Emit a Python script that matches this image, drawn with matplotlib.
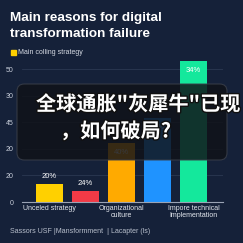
import matplotlib
matplotlib.use("Agg")
import matplotlib.pyplot as plt
from matplotlib.patches import FancyBboxPatch
import matplotlib.patheffects as pe

# data
categories = ['Unceled strategy', 'Red', 'Organizational\nculture', 'Blue', 'Impore technical\nImplementation']
values = [6.8, 4.1, 22.2, 31.6, 53.0]
value_labels = ['20%', '24%', '40%', '67%', '34%']
bar_colors = ['#ffd000', '#f23a46', '#ffaa00', '#1f93ff', '#14e89c']
label_inside = [False, False, True, True, True]
ytick_vals = [0, 10, 20, 30, 40, 50]
ytick_text = ['0', '20', '20', '45', '30', '50']
xtick_pos = [0, 2, 4]
xtick_text = ['Unceled strategy', 'Organizational\nculture', 'Impore technical\nImplementation']

bg = '#152139'
W = 243.0

fig = plt.figure(figsize=(2.43, 2.43), dpi=100)
fig.patch.set_facecolor(bg)

# axes placed to match pixel layout
ax = fig.add_axes([22 / W, 1 - 202 / W, 201 / W, (202 - 55.7) / W])
ax.set_facecolor(bg)
ax.set_xlim(-0.764, 4.82)
ax.set_ylim(0, 55)

for y in ytick_vals[1:]:
    ax.axhline(y, color='#2b3852', lw=0.6, zorder=0)

xs = list(range(len(values)))
ax.bar(xs, values, width=0.75, color=bar_colors, zorder=2)

for x, v, t, inside in zip(xs, values, value_labels, label_inside):
    off = -7 if inside else 5.5
    ax.annotate(t, (x, v), xytext=(0, off), textcoords='offset points',
                ha='center', va='center', color='white', fontsize=5.5,
                family='Liberation Sans', zorder=3)

for s in ['top', 'right', 'left']:
    ax.spines[s].set_visible(False)
ax.spines['bottom'].set_color('#9aa3b5')
ax.spines['bottom'].set_linewidth(0.8)

ax.set_yticks(ytick_vals)
ax.set_yticklabels(ytick_text, family='Liberation Sans', fontsize=5, color='#c9cfdb')
ax.tick_params(axis='y', length=0, pad=6)
ax.set_xticks(xtick_pos)
ax.set_xticklabels(xtick_text, family='Liberation Sans', fontsize=5, color='#e4e8ef',
                   linespacing=1.1)
ax.tick_params(axis='x', length=0, pad=2)

# title
fig.text(10 / W, 1 - 17.5 / W, 'Main reasons for digital', ha='left', va='center',
         color='white', fontsize=9.7, fontweight='bold', family='Liberation Sans')
fig.text(10 / W, 1 - 34 / W, 'transformation failure', ha='left', va='center',
         color='white', fontsize=9.7, fontweight='bold', family='Liberation Sans')

# legend
fig.patches.append(plt.Rectangle((11 / W, 1 - 55 / W), 5 / W, 5 / W, transform=fig.transFigure,
                                 color='#ffd000', figure=fig))
fig.text(18 / W, 1 - 52.5 / W, 'Main colling strategy', ha='left', va='center',
         color='#d5dae3', fontsize=5, family='Liberation Sans')

# footer
fig.text(10 / W, 1 - 231 / W, 'Sassors USF |Mansformment  | Lacapter (ls)', ha='left',
         va='center', color='#b8bfcc', fontsize=5, family='Liberation Sans')

# dark overlay box with chinese headline
box = FancyBboxPatch((17 / W, 1 - 160 / W), 210 / W, 76 / W,
                     boxstyle='round,pad=0,rounding_size=0.03',
                     transform=fig.transFigure, facecolor='#101218', alpha=0.84,
                     edgecolor='#3a3f4a', lw=0.8, zorder=10)
fig.add_artist(box)

stroke = [pe.withStroke(linewidth=2, foreground='#101010')]
fig.text(36 / W, 1 - 104 / W, '全球通胀"灰犀牛"已现', ha='left', va='center', color='white',
         fontsize=14.5, fontweight='bold', family=['Noto Sans CJK SC', 'DejaVu Sans'],
         path_effects=stroke, zorder=11)
fig.text(60 / W, 1 - 131 / W, '，如何破局?', ha='left', va='center', color='white',
         fontsize=14.5, fontweight='bold', family=['Noto Sans CJK SC', 'DejaVu Sans'],
         path_effects=stroke, zorder=11)

fig.savefig('out.png', dpi=100, facecolor=bg)
